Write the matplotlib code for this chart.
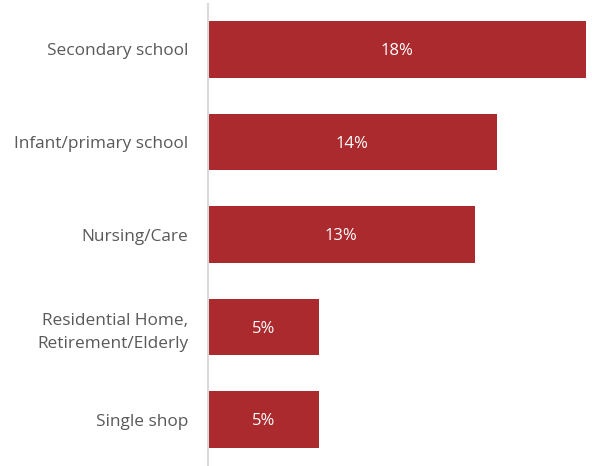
import matplotlib
matplotlib.use("Agg")
import matplotlib.pyplot as plt

categories = ["Secondary school", "Infant/primary school", "Nursing/Care",
              "Residential Home,\nRetirement/Elderly", "Single shop"]
values = [18.0, 13.75, 12.7, 5.3, 5.3]
labels = ["18%", "14%", "13%", "5%", "5%"]

plt.rcParams['font.family'] = ['Open Sans', 'DejaVu Sans']
fig = plt.figure(figsize=(5.92, 4.66), dpi=100)
ax = fig.add_axes([208/592, 1-465/466, (586-208)/592, (465-4)/466])
ypos = list(range(len(categories)))
ax.barh(ypos, values, height=0.61, color="#AB2A2D")
for y, v, l in zip(ypos, values, labels):
    ax.text(v/2, y + 0.02, l, ha="center", va="center", color="white", fontsize=12)
ax.set_xlim(0, 18)
ax.set_ylim(4.49, -0.49)
ax.set_yticks(ypos)
ax.set_yticklabels(categories, fontsize=12.4, color="#595959", linespacing=1.55)
ax.tick_params(axis="y", length=0, pad=14)
ax.set_xticks([])
for s in ["top", "right", "bottom"]:
    ax.spines[s].set_visible(False)
ax.spines["left"].set_color("#D9D9D9")
ax.spines["left"].set_linewidth(1.5)
fig.savefig("out.png", dpi=100)
